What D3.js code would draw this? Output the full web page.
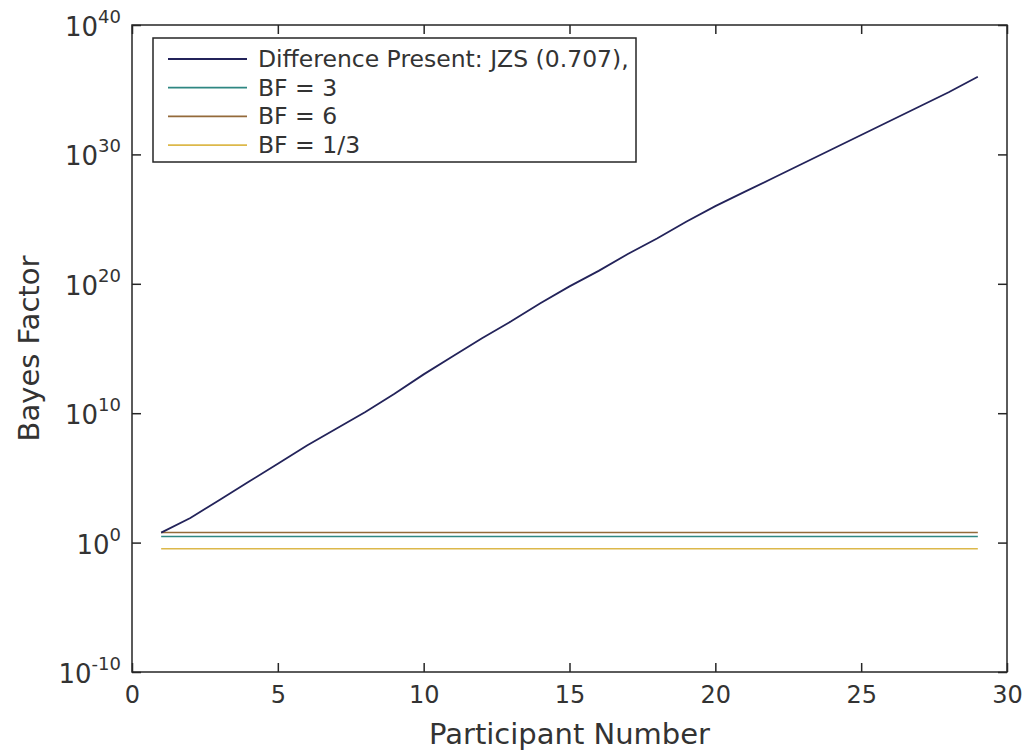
<html>
<head>
<meta charset="utf-8">
<script src="https://d3js.org/d3.v7.min.js"></script>
<style>
  body { margin: 0; background: #fff; }
  text { font-family: "DejaVu Sans", sans-serif; fill: #333; }
</style>
</head>
<body>
<script>
    ////////// data //////////
    var participants = [1, 2, 3, 4, 5, 6, 7, 8, 9, 10, 11, 12, 13, 14, 15,
        16, 17, 18, 19, 20, 21, 22, 23, 24, 25, 26, 27, 28, 29];
    // log10 of the Bayes factor for "Difference Present"
    var logBF = [0.77, 1.9, 3.3, 4.7, 6.1, 7.5, 8.8, 10.1, 11.5, 13.0, 14.4, 15.8, 17.1, 18.5, 19.8,
        21.0, 22.3, 23.5, 24.8, 26.0, 27.1, 28.2, 29.3, 30.4, 31.5, 32.6, 33.7, 34.8, 36.0];
    var thresholds = [3, 6, 1 / 3];
    var legendLabels = ["Difference Present: JZS (0.707),", "BF = 3", "BF = 6", "BF = 1/3"];
    var colors = ["#23235a", "#2e8782", "#946a3a", "#dcb84a"];
    var xTicks = [0, 5, 10, 15, 20, 25, 30];
    var yExps = [-10, 0, 10, 20, 30, 40];

    drawChart();

    function drawChart() {
        ////////// settings //////////
        var svgWidth = 1028, svgHeight = 754;
        var pLeft = 132, pRight = 1007, pTop = 25, pBottom = 672;
        var tickLen = 9;
        var axisColor = "#262626";

        var svg = d3.select("body").append("svg")
            .attr("width", svgWidth)
            .attr("height", svgHeight);

        var x = d3.scaleLinear().domain([0, 30]).range([pLeft, pRight]);
        var y = d3.scaleLog().domain([1e-10, 1e40]).range([pBottom, pTop]);

        // threshold lines
        thresholds.forEach(function (t, i) {
            svg.append("line")
                .attr("x1", x(participants[0]))
                .attr("x2", x(participants[participants.length - 1]))
                .attr("y1", y(t)).attr("y2", y(t))
                .attr("stroke", colors[i + 1])
                .attr("stroke-width", 1.6);
        });

        // main curve
        var bfLine = d3.line()
            .x(function (d, i) { return x(participants[i]); })
            .y(function (d) { return y(Math.pow(10, d)); });
        svg.append("path")
            .datum(logBF)
            .attr("d", bfLine)
            .attr("fill", "none")
            .attr("stroke", colors[0])
            .attr("stroke-width", 1.8);

        // axes box with inward ticks on all sides
        svg.append("rect")
            .attr("x", pLeft).attr("y", pTop)
            .attr("width", pRight - pLeft).attr("height", pBottom - pTop)
            .attr("fill", "none")
            .attr("stroke", axisColor)
            .attr("stroke-width", 1.5);

        function styleAxis(g) {
            g.select(".domain").remove();
            g.selectAll("line").attr("stroke", axisColor).attr("stroke-width", 1.5);
        }

        var gx = svg.append("g").attr("transform", "translate(0," + pBottom + ")")
            .call(d3.axisBottom(x).tickValues(xTicks).tickSizeInner(-tickLen).tickSizeOuter(0).tickPadding(14));
        styleAxis(gx);
        gx.selectAll("text").attr("font-size", 24).attr("font-family", "DejaVu Sans").attr("fill", "#333");

        var gxt = svg.append("g").attr("transform", "translate(0," + pTop + ")")
            .call(d3.axisTop(x).tickValues(xTicks).tickSizeInner(-tickLen).tickSizeOuter(0).tickFormat(""));
        styleAxis(gxt);

        var yTickVals = yExps.map(function (e) { return Math.pow(10, e); });
        var gy = svg.append("g").attr("transform", "translate(" + pLeft + ",0)")
            .call(d3.axisLeft(y).tickValues(yTickVals).tickSizeInner(-tickLen).tickSizeOuter(0).tickFormat(""));
        styleAxis(gy);

        var gyr = svg.append("g").attr("transform", "translate(" + pRight + ",0)")
            .call(d3.axisRight(y).tickValues(yTickVals).tickSizeInner(-tickLen).tickSizeOuter(0).tickFormat(""));
        styleAxis(gyr);

        // y tick labels: 10 with superscript exponent
        yExps.forEach(function (e) {
            var t = svg.append("text")
                .attr("x", pLeft - 11)
                .attr("y", y(Math.pow(10, e)) + 11)
                .attr("text-anchor", "end");
            t.append("tspan").attr("font-size", 26).text("10");
            t.append("tspan").attr("font-size", 18).attr("dy", -13).text(e);
        });

        // axis labels
        svg.append("text")
            .attr("x", (pLeft + pRight) / 2)
            .attr("y", 744)
            .attr("text-anchor", "middle")
            .attr("font-size", 29)
            .text("Participant Number");
        svg.append("text")
            .attr("transform", "translate(39," + (pTop + pBottom) / 2 + ") rotate(-90)")
            .attr("text-anchor", "middle")
            .attr("font-size", 29)
            .text("Bayes Factor");

        // legend
        var lg = svg.append("g").attr("class", "legend");
        lg.append("rect")
            .attr("x", 153).attr("y", 38)
            .attr("width", 483).attr("height", 124)
            .attr("fill", "#fff")
            .attr("stroke", axisColor)
            .attr("stroke-width", 1.5);
        legendLabels.forEach(function (lab, i) {
            var yy = 59 + i * 28.7;
            lg.append("line")
                .attr("x1", 168).attr("x2", 247)
                .attr("y1", yy).attr("y2", yy)
                .attr("stroke", colors[i])
                .attr("stroke-width", 1.8);
            lg.append("text")
                .attr("x", 258).attr("y", yy + 8)
                .attr("font-size", 23.5)
                .text(lab);
        });
    }
</script>
</body>
</html>
